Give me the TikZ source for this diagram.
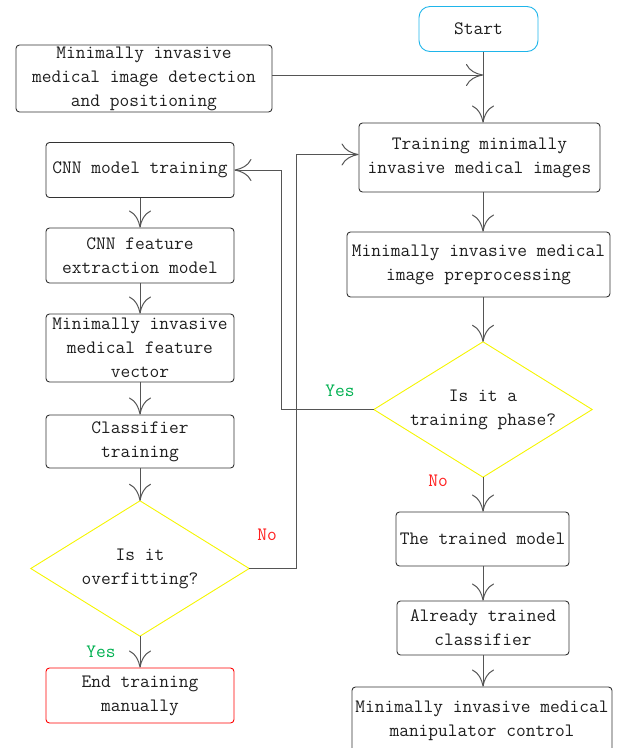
\documentclass[tikz,border=0pt]{standalone}
\usepackage{fontspec}
\usetikzlibrary{arrows.meta}
\definecolor{boxline}{HTML}{333333}
\definecolor{arrline}{HTML}{555555}
\definecolor{startc}{HTML}{1FB5EA}
\definecolor{diac}{HTML}{F5F500}
\definecolor{yesc}{HTML}{00B050}
\definecolor{noc}{HTML}{FF2020}
\definecolor{txt}{HTML}{1E1E1E}
\begin{document}
\begin{tikzpicture}[x=1pt,y=-1pt,
  every node/.style={font=\ttfamily\fontsize{18.9}{24}\selectfont, text=txt, align=center, inner sep=0pt},
  box/.style={draw=boxline, line width=0.9pt, rounded corners=3.5pt},
  dbox/.style={draw=none},
  dia/.style={draw=diac, line width=0.9pt},
  arr/.style={draw=arrline, line width=1pt, -{Computer Modern Rightarrow[length=17pt,width=22pt,line width=1pt]}},
  yes/.style={text=yesc},
  no/.style={text=noc}]
\useasboundingbox (0,0) rectangle (619,748);
\coordinate (spine) at (483,0);
\coordinate (yb) at (281,0);
\coordinate (nb) at (296,0);
% right column
\node[box, draw=startc, rounded corners=11pt, minimum width=119, minimum height=45] (start) at (478.5,29) {Start};
\node[box, minimum width=256, minimum height=67] (detect) at (144,78.5) {Minimally invasive\\medical image detection\\and positioning};
\node[box, minimum width=241, minimum height=69] (train) at (479.5,157.5) {Training minimally\\invasive medical images};
\node[box, minimum width=263, minimum height=65] (prep) at (478.5,264.5) {Minimally invasive medical\\image preprocessing};
\node[dbox, minimum width=218, minimum height=135] (d1) at (483,409.5) {Is it a\\training phase?};
\draw[dia] (d1.north) -- (d1.east) -- (d1.south) -- (d1.west) -- cycle;
\node[box, minimum width=173, minimum height=54] (trained) at (482.5,539) {The trained model};
\node[box, minimum width=172, minimum height=54] (already) at (483,628) {Already trained\\classifier};
\node[box, minimum width=260, minimum height=68] (manip) at (482,721) {Minimally invasive medical\\manipulator control};
% left column
\node[box, minimum width=188, minimum height=55] (cnn) at (140,170) {CNN model training};
\node[box, minimum width=188, minimum height=55] (feat) at (140,255.5) {CNN feature\\extraction model};
\node[box, minimum width=188, minimum height=68] (vec) at (140,348) {Minimally invasive\\medical feature\\vector};
\node[box, minimum width=188, minimum height=53] (clf) at (140,441.5) {Classifier\\training};
\node[dbox, minimum width=218, minimum height=135] (d2) at (140,568.5) {Is it\\overfitting?};
\draw[dia] (d2.north) -- (d2.east) -- (d2.south) -- (d2.west) -- cycle;
\node[box, draw=red, minimum width=188, minimum height=55] (endm) at (140,695.5) {End training\\manually};
% labels
\node[yes] (ly1) at (340,391) {Yes};
\node[no] (ln1) at (438,481) {No};
\node[no] (ln2) at (267,535) {No};
\node[yes] (ly2) at (101,652) {Yes};
% connectors right
\draw[arr] (start.south -| spine) -- (train.north -| spine);
\draw[arr] ([yshift=3.5pt]detect.east) -- ([yshift=3.5pt]detect.east -| spine);
\draw[arr] (train.south -| spine) -- (prep.north -| spine);
\draw[arr] (prep.south -| spine) -- (d1.north);
\draw[arr] (d1.south) -- (trained.north -| spine);
\draw[arr] (trained.south -| spine) -- (already.north -| spine);
\draw[arr] (already.south -| spine) -- (manip.north -| spine);
\draw[arr] (d1.west) -- (d1.west -| yb) -- (yb |- cnn.east) -- (cnn.east);
% connectors left
\draw[arr] (cnn.south) -- (feat.north);
\draw[arr] (feat.south) -- (vec.north);
\draw[arr] (vec.south) -- (clf.north);
\draw[arr] (clf.south) -- (d2.north);
\draw[arr] (d2.south) -- (endm.north);
\draw[arr] (d2.east) -- (d2.east -| nb) -- ([yshift=3pt]nb |- train.west) -- ([yshift=3pt]train.west);
\end{tikzpicture}
\end{document}
